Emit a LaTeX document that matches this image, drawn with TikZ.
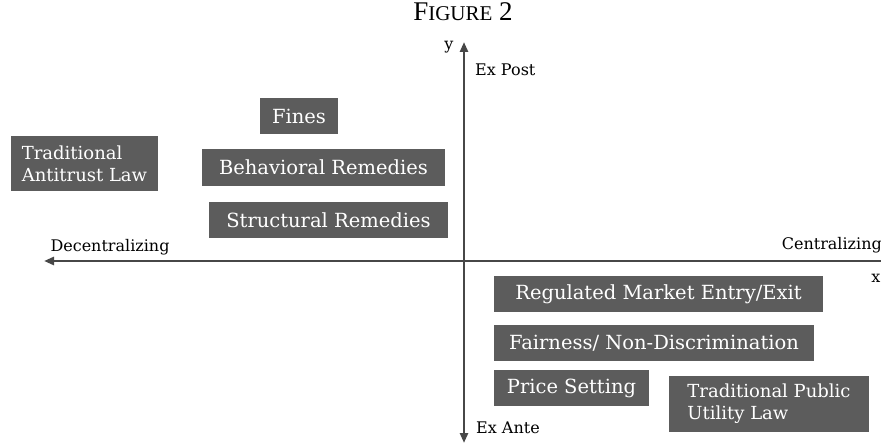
\documentclass[tikz,border=0pt]{standalone}
\usepackage{fontspec}
\setmainfont{DejaVu Serif}
\newfontfamily\titlefont{Liberation Serif}
\usetikzlibrary{arrows.meta}
\definecolor{boxgray}{HTML}{5C5C5C}
\definecolor{axisgray}{HTML}{474747}

\begin{document}
\begin{tikzpicture}[x=1pt,y=-1pt,>={Triangle[length=10pt,width=8pt]}]
        \tikzstyle{remedy}=[fill=boxgray,text=white,inner sep=0pt,font=\fontsize{19.5}{23}\selectfont,align=left]
        \tikzstyle{law}=[remedy,font=\fontsize{18}{22}\selectfont]
        \tikzstyle{axis}=[draw=axisgray,line width=2.6pt]
        \tikzstyle{label}=[font=\fontsize{16}{19}\selectfont,inner sep=0pt]
        \useasboundingbox (0,0) rectangle (881,446);
       \begin{scope}
         \node [font=\titlefont\fontsize{27}{30}\selectfont] (title) at (463,12) {F{\fontsize{21}{24}\selectfont IGURE} 2};
         % axes
         \coordinate (north) at (464,42);
         \coordinate (south) at (464,443);
         \coordinate (west) at (44,261);
         \coordinate (east) at (881,261);
         \draw[axis,<->] (south) -- (north);
         \draw[axis,->] (east) -- (west);
         \node [label] (ylab) at (449,47) {y};
         \node [label,anchor=west] (expost) at (475,70) {Ex Post};
         \node [label,anchor=west] (exante) at (476,428) {Ex Ante};
         \node [label] (decent) at (110,247) {Decentralizing};
         \node [label,anchor=east] (cent) at (882,245) {Centralizing};
         \node [label] (xlab) at (876,278) {x};
         % remedies
         \node [remedy,minimum width=78,minimum height=36] (fines) at (299,116) {Fines};
         \node [law,minimum width=147,minimum height=55] (antitrust) at (84.5,163.5) {Traditional\\Antitrust Law};
         \node [remedy,minimum width=243,minimum height=37] (behav) at (323.5,167.5) {Behavioral Remedies};
         \node [remedy,minimum width=239,minimum height=36] (struct) at (328.5,220) {Structural Remedies};
         \node [remedy,minimum width=329,minimum height=36] (entry) at (658.5,294) {Regulated Market Entry/Exit};
         \node [remedy,minimum width=320,minimum height=36] (fair) at (654,343) {Fairness/ Non-Discrimination};
         \node [remedy,minimum width=155,minimum height=36] (price) at (571.5,388) {Price Setting};
         \node [law,minimum width=200,minimum height=56] (utility) at (769,404) {Traditional Public\\Utility Law};
        \end{scope}
      \end{tikzpicture}
\end{document}
